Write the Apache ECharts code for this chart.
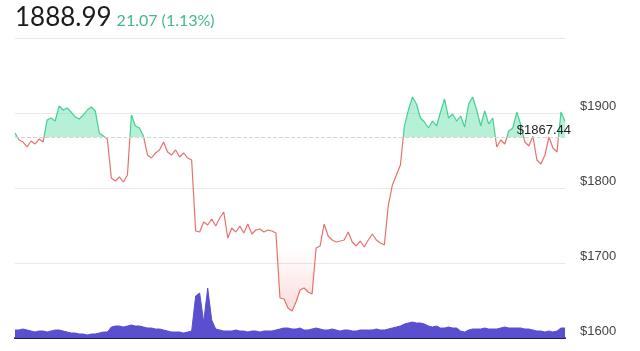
<!DOCTYPE html>
<html>
<head>
<meta charset="utf-8">
<script src="https://cdn.jsdelivr.net/npm/echarts@6/dist/echarts.min.js"></script>
<style>
  html, body { margin: 0; padding: 0; background: #fff; }
  #chart { width: 640px; height: 351px; }
</style>
</head>
<body>
<div id="chart"></div>
<script>
// header numbers
const lastPrice = '1888.99';
const change = '21.07';
const changePct = '1.13%';
const basePrice = 1867.44;

// price trace, left to right
const prices = [
  1873.3, 1864, 1861.3, 1854.7, 1862.7, 1858.7, 1865.3, 1861.3, 1890.7, 1893.3,
  1889.3, 1909.3, 1904, 1906.7, 1901.3, 1894.7, 1892, 1897.3, 1904, 1908,
  1902.7, 1873.3, 1869.3, 1865.3, 1813.3, 1809.3, 1814.7, 1808, 1817.3, 1897.3,
  1882.7, 1880, 1869.3, 1844, 1840, 1846.7, 1850.7, 1861.3, 1848, 1844,
  1850.7, 1841.3, 1846.7, 1840, 1837.3, 1742.7, 1741.3, 1754.7, 1750.7, 1758.7,
  1749.3, 1760, 1768, 1733.3, 1746.7, 1741.3, 1749.3, 1740, 1752, 1738.7,
  1744, 1745.3, 1741.3, 1744, 1742.7, 1740, 1653.3, 1652, 1640, 1636,
  1648, 1664, 1666.7, 1661.3, 1658.7, 1720, 1722.7, 1752, 1736, 1730.7,
  1728, 1729.3, 1730.7, 1741.3, 1728, 1722.7, 1729.3, 1721.3, 1730.7, 1738.7,
  1730.7, 1726.7, 1724, 1777.3, 1804, 1817.3, 1830.7, 1882.7, 1904, 1921.3,
  1912, 1893.3, 1888, 1880, 1889.3, 1882.7, 1901.3, 1918.7, 1893.3, 1898.7,
  1889.3, 1896, 1881.3, 1912, 1921.3, 1904, 1882.7, 1902.7, 1885.3, 1893.3,
  1854.7, 1864, 1858.7, 1876, 1880, 1901.3, 1884, 1861.3, 1856, 1869.3,
  1837.3, 1832, 1844, 1868, 1853.3, 1848, 1901.3, 1888.99
];

// volume trace, same steps
const volumes = [
  8, 8, 9, 8, 7, 6, 7, 7, 6, 7,
  8, 8, 7, 6, 5, 5, 4, 4, 3, 4,
  4, 5, 6, 6, 11, 12, 12, 11, 12, 13,
  12, 12, 11, 10, 10, 9, 9, 8, 7, 6,
  6, 6, 5, 6, 7, 42, 45, 16, 50, 18,
  9, 8, 7, 7, 7, 8, 7, 7, 6, 7,
  7, 6, 7, 7, 7, 8, 9, 10, 10, 9,
  9, 10, 8, 8, 9, 10, 9, 8, 8, 9,
  8, 7, 8, 8, 7, 7, 8, 8, 8, 8,
  9, 8, 8, 9, 10, 11, 12, 14, 15, 16,
  15, 15, 14, 12, 11, 12, 10, 10, 11, 10,
  10, 7, 6, 8, 9, 9, 9, 10, 9, 9,
  9, 10, 11, 10, 10, 10, 10, 9, 9, 8,
  7, 7, 6, 7, 6, 7, 10, 10
];

const categories = prices.map((_, i) => i);
const yTicks = [1600, 1700, 1800, 1900, 2000];

const up = '#46cf95';
const down = '#e8706b';

const pMax = Math.max(...prices);
const pMin = Math.min(...prices);
const baseOff = (pMax - basePrice) / (pMax - pMin);

const chart = echarts.init(document.getElementById('chart'));

const option = {
  animation: false,
  title: {
    left: 10,
    top: 0,
    text: '{a|' + lastPrice + '} {b|' + change + ' (' + changePct + ')}',
    textStyle: {
      fontWeight: 'normal',
      rich: {
        a: { fontFamily: 'Lato', fontSize: 26, fontWeight: 'normal', color: '#1c1c1c', verticalAlign: 'bottom' },
        b: { fontFamily: 'Lato', fontSize: 16, fontWeight: 'normal', color: '#45b988', verticalAlign: 'bottom', padding: [0, 0, 2, 0] }
      }
    }
  },
  grid: [
    { left: 15, right: 75, top: 38, bottom: 13 },
    { left: 15, right: 75, top: 278, bottom: 13 }
  ],
  xAxis: [
    {
      type: 'category', gridIndex: 0, data: categories, boundaryGap: false,
      axisLine: { show: false }, axisTick: { show: false }, axisLabel: { show: false }
    },
    {
      type: 'category', gridIndex: 1, data: categories, boundaryGap: false,
      axisLine: { show: true, lineStyle: { color: '#1e1e55', width: 2 } },
      axisTick: { show: false }, axisLabel: { show: false }
    }
  ],
  yAxis: [
    {
      type: 'value', gridIndex: 0, position: 'right',
      min: yTicks[0], max: yTicks[yTicks.length - 1], interval: 100,
      axisLine: { show: false }, axisTick: { show: false },
      splitLine: { lineStyle: { color: '#e9e9e9' } },
      axisLabel: {
        showMaxLabel: false, margin: 15, color: '#444',
        fontFamily: 'Liberation Sans', fontSize: 13, verticalAlign: 'bottom',
        formatter: v => '$' + v
      }
    },
    {
      type: 'value', gridIndex: 1, min: 0, max: 60, show: false
    }
  ],
  visualMap: {
    show: false, type: 'piecewise', seriesIndex: 0, dimension: 1,
    pieces: [
      { gt: basePrice, lte: 2100, color: up },
      { gte: 1500, lte: basePrice, color: down }
    ]
  },
  series: [
    {
      type: 'line', xAxisIndex: 0, yAxisIndex: 0, data: prices,
      showSymbol: false, symbol: 'none',
      lineStyle: { width: 1.2 },
      areaStyle: {
        origin: basePrice,
        opacity: 1,
        color: new echarts.graphic.LinearGradient(0, 0, 0, 1, [
          { offset: 0, color: 'rgba(110,225,175,0.5)' },
          { offset: baseOff, color: 'rgba(110,225,175,0.5)' },
          { offset: baseOff, color: 'rgba(240,120,120,0)' },
          { offset: 0.7, color: 'rgba(240,120,120,0)' },
          { offset: 1, color: 'rgba(240,120,120,0.25)' }
        ])
      },
      markLine: {
        silent: true, symbol: 'none',
        lineStyle: { type: 'dashed', color: '#d6d6d6', width: 1 },
        label: {
          position: 'insideEndTop', distance: [-6, 0],
          color: '#222', fontFamily: 'Liberation Sans', fontSize: 13,
          formatter: '$' + basePrice
        },
        data: [{ yAxis: basePrice }]
      },
      z: 3
    },
    {
      type: 'line', xAxisIndex: 1, yAxisIndex: 1, data: volumes,
      showSymbol: false, symbol: 'none',
      lineStyle: { width: 1, color: '#5a4fcf' },
      areaStyle: { color: '#5a4fcf', opacity: 1 },
      z: 2
    }
  ]
};

chart.setOption(option);
</script>
</body>
</html>
